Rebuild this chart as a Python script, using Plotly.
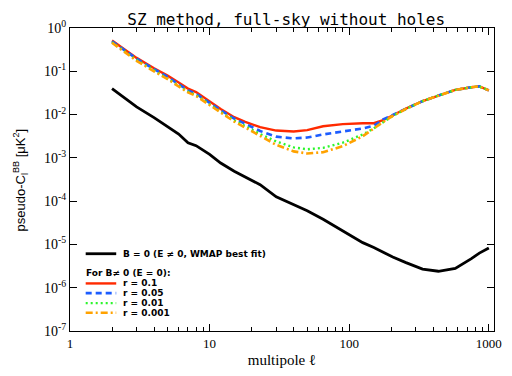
import plotly.graph_objects as go

# multipole values where the curves were read
ell = [2, 3, 4, 5, 6, 7, 8, 10, 12, 15, 18, 23, 30, 40, 50, 65, 90, 125, 150, 175,
       205, 255, 335, 435, 575, 750, 855, 1000]

# B = 0 (E != 0, WMAP best fit)
cl_b0 = [0.040, 0.0151, 0.0085, 0.00525, 0.00355, 0.00224, 0.00191, 0.0012, 7.6e-4, 4.9e-4,
         3.55e-4, 2.4e-4, 1.26e-4, 8.3e-5, 6.0e-5, 3.8e-5, 2.04e-5, 1.1e-5, 8.5e-6, 6.5e-6,
         5.1e-6, 3.8e-6, 2.7e-6, 2.4e-6, 2.8e-6, 4.7e-6, 6.3e-6, 8.3e-6]

# B != 0 (E = 0)
cl_r01 = [0.513, 0.204, 0.1175, 0.0794, 0.055, 0.0398, 0.0331, 0.01995, 0.0135, 0.0087,
          0.00676, 0.00513, 0.00427, 0.00407, 0.00437, 0.00537, 0.00603, 0.0063, 0.0063, 0.0074,
          0.0098, 0.0138, 0.0204, 0.0275, 0.0372, 0.0427, 0.0447, 0.0363]
cl_r005 = [0.49, 0.195, 0.112, 0.074, 0.050, 0.0363, 0.0302, 0.0186, 0.0126, 0.0081,
           0.0060, 0.00417, 0.00309, 0.00282, 0.00295, 0.00347, 0.00407, 0.00479, 0.0055, 0.00776,
           0.0098, 0.0138, 0.0204, 0.0275, 0.0372, 0.0427, 0.0447, 0.0363]
cl_r001 = [0.468, 0.182, 0.105, 0.069, 0.0468, 0.0339, 0.0282, 0.0174, 0.0115, 0.0074,
           0.00537, 0.00355, 0.0024, 0.00174, 0.00158, 0.0017, 0.00224, 0.00347, 0.00479, 0.00676,
           0.0093, 0.0135, 0.0204, 0.0275, 0.0372, 0.0427, 0.0447, 0.0363]
cl_r0001 = [0.457, 0.174, 0.100, 0.066, 0.0447, 0.0324, 0.0269, 0.0166, 0.011, 0.0069,
            0.0050, 0.00316, 0.0020, 0.00141, 0.00126, 0.00135, 0.00186, 0.00316, 0.00479, 0.00676,
            0.0093, 0.0135, 0.0204, 0.0275, 0.0372, 0.0427, 0.0447, 0.0363]

x_ticks = [1, 10, 100, 1000]
x_ticktext = ["1", "10", "100", "1000"]
y_ticks = [1, 1e-1, 1e-2, 1e-3, 1e-4, 1e-5, 1e-6, 1e-7]
y_ticktext = ["10<sup>0</sup>", "10<sup>-1</sup>", "10<sup>-2</sup>", "10<sup>-3</sup>",
              "10<sup>-4</sup>", "10<sup>-5</sup>", "10<sup>-6</sup>", "10<sup>-7</sup>"]

legend_labels = ["B = 0 (E \u2260 0, WMAP best fit)", "r = 0.1", "r = 0.05", "r = 0.01", "r = 0.001"]
legend_header = "For B\u2260 0 (E = 0):"

RED = "#ff2a00"
BLUE = "#1c5cff"
GREEN = "#2cf52c"
ORANGE = "#ffa200"

series = [
    (cl_b0, "black", "solid", 2.8),
    (cl_r01, RED, "solid", 2.4),
    (cl_r005, BLUE, "6px,4px", 2.6),
    (cl_r001, GREEN, "2px,3px", 2.4),
    (cl_r0001, ORANGE, "7px,3px,2px,3px", 2.6),
]

fig = go.Figure()
for vals, col, dash, w in series:
    fig.add_trace(go.Scatter(x=ell, y=vals, mode="lines",
                             line=dict(color=col, dash=dash, width=w),
                             showlegend=False))

# legend drawn as key lines + text in paper coordinates
leg_y = [0.255, 0.157, 0.125, 0.092, 0.060]
x0, x1, xt = 0.037, 0.109, 0.120
shapes = []
annotations = []
LEGFONT = dict(family="DejaVu Sans", size=9, color="black")
for (vals, col, dash, w), yy, lab in zip(series, leg_y, legend_labels):
    shapes.append(dict(type="line", xref="paper", yref="paper", x0=x0, x1=x1, y0=yy, y1=yy,
                       line=dict(color=col, dash=dash, width=w)))
    annotations.append(dict(xref="paper", yref="paper", x=xt, y=yy, text="<b>%s</b>" % lab,
                            showarrow=False, xanchor="left", yanchor="middle", font=LEGFONT))
annotations.append(dict(xref="paper", yref="paper", x=0.034, y=0.190, text="<b>%s</b>" % legend_header,
                        showarrow=False, xanchor="left", yanchor="middle", font=LEGFONT))

# y-axis title as rotated annotation
annotations.append(dict(xref="paper", yref="paper", x=-0.118, y=0.5, xanchor="center", yanchor="middle",
                        text="pseudo-C<sub>l</sub><sup>BB</sup> [\u03bcK<sup>2</sup>]", textangle=-90,
                        showarrow=False, font=dict(family="Liberation Sans", size=13, color="black")))

axis_common = dict(showline=True, linecolor="black", linewidth=1.2, mirror="ticks",
                   ticks="inside", tickcolor="black", showgrid=False, zeroline=False)

# the page adds an 8px body margin, so the figure is 8px smaller and margins compensate
fig.update_layout(
    width=504, height=368,
    margin=dict(l=62, r=10, t=16, b=45),
    paper_bgcolor="white", plot_bgcolor="white",
    title=dict(text="SZ method, full-sky without holes", x=0.552, xanchor="center",
               y=0.985, yanchor="top",
               font=dict(family="DejaVu Sans Mono", size=16, color="black")),
    shapes=shapes, annotations=annotations,
    xaxis=dict(type="log", range=[0, 3.037], tickvals=x_ticks, ticktext=x_ticktext,
               ticklen=7, tickwidth=1,
               minor=dict(ticks="inside", ticklen=3.5, tickcolor="black",
                          tickvals=[2, 3, 4, 5, 6, 7, 8, 9, 20, 30, 40, 50, 60, 70, 80, 90,
                                    200, 300, 400, 500, 600, 700, 800, 900]),
               tickfont=dict(family="Liberation Serif", size=13, color="black"),
               title=dict(text="multipole \u2113", standoff=4,
                          font=dict(family="Liberation Serif", size=15, color="black")),
               **axis_common),
    yaxis=dict(type="log", range=[-7, 0], tickvals=y_ticks, ticktext=y_ticktext,
               ticklen=7, tickwidth=1,
               tickfont=dict(family="Liberation Serif", size=14, color="black"),
               **axis_common),
)

fig.write_html("out.html")
